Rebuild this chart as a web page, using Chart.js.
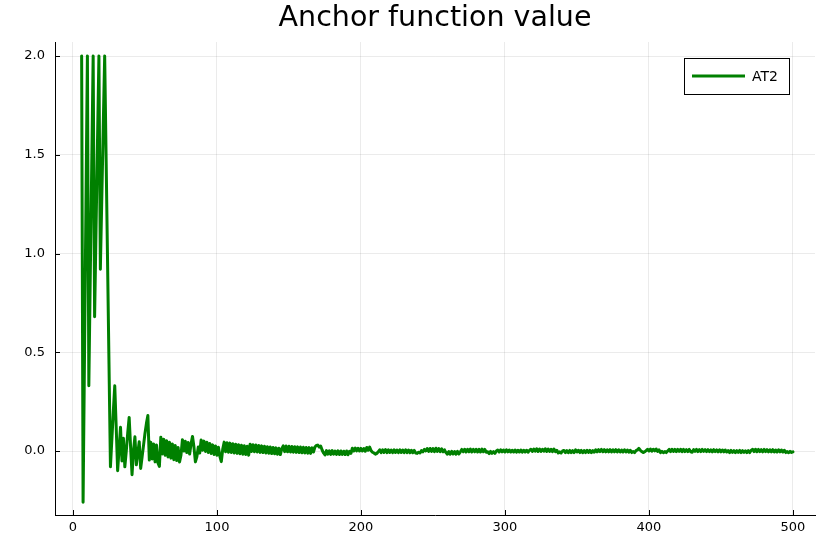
<!DOCTYPE html>
<html>
<head>
<meta charset="utf-8">
<script src="https://cdn.jsdelivr.net/npm/chart.js@4.4.0/dist/chart.umd.min.js"></script>
<style>
  html, body { margin: 0; padding: 0; background: #fff; }
</style>
</head>
<body>
<canvas id="myChart" width="830" height="554"></canvas>
<script>

/* Dados do gráfico */

var firstIteration = 6;

var anchorValue = [
  2.0, -0.26, 0.49, 1.25, 2.0, 0.33, 0.89, 1.44, 2.0, 0.68,              // 6
  1.12, 1.56, 2.0, 0.92, 1.28, 1.64, 2.0, 1.48, 0.96, 0.44,              // 16
  -0.08, 0.06, 0.20, 0.33, 0.12, -0.10, 0.01, 0.12, -0.05, 0.065,        // 26
  -0.08, 0.0, 0.09, 0.17, 0.02, -0.12, 0.0, 0.072, -0.07, -0.01,         // 36
  0.047, -0.088, -0.03, 0.03, 0.09, 0.14, 0.18, -0.046, 0.045, -0.04,    // 46
  0.035, -0.055, 0.03, -0.06, -0.078, 0.07, -0.015, 0.06, -0.022, 0.052, // 56
  -0.03, 0.044, -0.036, 0.036, -0.044, 0.028, -0.048, 0.018, -0.056, -0.02, // 66
  0.057, 0.0, 0.05, -0.008, 0.043, -0.015, 0.036, 0.074, 0.02, -0.055,   // 76
  -0.03, 0.02, -0.01, 0.056, 0.004, 0.05, -0.002, 0.044, -0.008, 0.038,  // 86
  -0.013, 0.031, -0.018, 0.025, -0.022, 0.019, -0.027, -0.054, 0.01, 0.045, // 96
  -0.004, 0.042, -0.006, 0.04, -0.008, 0.037, -0.01, 0.034, -0.012, 0.032,  // 106
  -0.014, 0.029, -0.016, 0.027, -0.018, 0.024, -0.021, 0.034, -0.002, 0.032, // 116
  -0.004, 0.030, -0.005, 0.028, -0.007, 0.026, -0.008, 0.024, -0.01, 0.022,  // 126
  -0.011, 0.02, -0.013, 0.018, -0.014, 0.016, -0.016, 0.014, -0.018, 0.012,  // 136
  0.026, -0.003, 0.025, -0.004, 0.024, -0.005, 0.023, -0.006, 0.022, -0.007, // 146
  0.021, -0.008, 0.02, -0.009, 0.019, -0.01, 0.018, -0.011, 0.017, -0.012,   // 156
  0.016, -0.005, 0.02, 0.028, 0.03, 0.02, 0.025, 0.005, -0.01, -0.02,        // 166
  0.002, -0.016, 0.001, -0.017, 0.002, -0.016, 0.0, -0.017, 0.001, -0.018,   // 176
  0.0, -0.017, -0.001, -0.018, 0.0, -0.019, -0.002, -0.012, 0.014, 0.0,      // 186
  0.015, 0.001, 0.014, 0.0, 0.013, 0.0, 0.012, -0.001, 0.018, 0.004,         // 196
  0.02, 0.002, -0.006, -0.01, -0.016, -0.012, -0.004, 0.006, -0.008, 0.006,  // 206
  -0.007, 0.007, -0.008, 0.006, -0.007, 0.005, -0.008, 0.006, -0.007, 0.005, // 216
  -0.008, 0.006, -0.007, 0.005, -0.008, 0.006, -0.008, 0.005, -0.009, 0.004, // 226
  -0.009, 0.003, -0.01, -0.012, -0.006, -0.01, 0.002, -0.004, 0.008, 0.0,   // 236
  0.012, -0.002, 0.013, -0.002, 0.012, -0.003, 0.014, -0.002, 0.012, -0.003, // 246
  0.011, -0.004, 0.006, -0.008, -0.016, -0.003, -0.016, -0.002, -0.015, -0.003, // 256
  -0.016, -0.002, -0.015, -0.004, 0.008, -0.004, 0.009, -0.005, 0.008, -0.004,  // 266
  0.01, -0.005, 0.008, -0.004, 0.009, -0.005, 0.008, -0.005, 0.01, -0.004,   // 276
  0.008, -0.006, -0.004, -0.013, -0.002, -0.012, -0.003, -0.012, 0.0, 0.005, // 286
  -0.005, 0.006, -0.004, 0.005, -0.005, 0.006, -0.004, 0.005, -0.005, 0.004, // 296
  -0.005, 0.005, -0.006, 0.004, -0.005, 0.005, -0.006, 0.004, -0.005, 0.004, // 306
  -0.006, 0.003, 0.009, -0.002, 0.01, -0.001, 0.011, -0.002, 0.01, -0.002,   // 316
  0.009, -0.001, 0.011, -0.002, 0.01, -0.002, 0.009, -0.003, 0.01, -0.003,   // 326
  0.004, -0.01, -0.004, -0.01, 0.0, 0.003, -0.008, 0.002, -0.009, 0.003,     // 336
  -0.008, 0.002, -0.008, 0.006, -0.005, 0.004, -0.008, 0.003, -0.009, 0.002, // 346
  -0.008, 0.004, -0.007, 0.003, -0.008, 0.002, -0.006, 0.006, -0.004, 0.007, // 356
  -0.003, 0.008, -0.004, 0.007, -0.004, 0.006, -0.004, 0.007, -0.005, 0.006, // 366
  -0.004, 0.007, -0.005, 0.006, -0.005, 0.005, -0.005, 0.006, -0.005, 0.005, // 376
  -0.006, 0.004, -0.008, -0.003, -0.008, 0.002, 0.006, 0.013, 0.004, -0.003, // 386
  -0.008, -0.004, 0.002, 0.009, 0.0, 0.01, -0.001, 0.009, 0.001, 0.01,       // 396
  -0.002, 0.006, -0.008, -0.002, -0.009, -0.003, -0.008, 0.0, 0.008, -0.003, // 406
  0.009, -0.002, 0.008, -0.003, 0.008, -0.002, 0.009, -0.003, 0.008, -0.003, // 416
  0.007, -0.003, 0.008, -0.004, -0.006, 0.007, -0.002, 0.008, -0.003, 0.007, // 426
  -0.003, 0.008, -0.002, 0.007, -0.003, 0.007, -0.003, 0.006, -0.004, 0.007, // 436
  -0.003, 0.006, -0.004, 0.006, -0.004, 0.005, -0.004, 0.005, -0.005, 0.002, // 446
  -0.008, 0.003, -0.007, 0.002, -0.008, 0.002, -0.007, 0.003, -0.008, 0.002, // 456
  -0.007, 0.001, -0.008, 0.002, -0.008, 0.004, 0.008, -0.003, 0.009, -0.004, // 466
  0.008, -0.003, 0.007, -0.004, 0.008, -0.003, 0.007, -0.004, 0.006, -0.004, // 476
  0.007, -0.005, 0.005, -0.005, 0.006, -0.004, 0.005, -0.005, 0.004, -0.008, // 486
  -0.003, -0.009, -0.002, -0.007, -0.004                                     // 496
];

var iterations = anchorValue.map(function (v, i) { return firstIteration + i; });

var xTicks = [0, 100, 200, 300, 400, 500];
var yTicks = [0.0, 0.5, 1.0, 1.5, 2.0];

var seriesLabel = 'AT2';
var chartTitle = 'Anchor function value';


/* Título centrado sobre a área do gráfico */

var tituloArea = {
  id: 'tituloArea',
  afterDraw: function (chart) {
    var ctx = chart.ctx;
    var area = chart.chartArea;
    ctx.save();
    ctx.fillStyle = '#000';
    ctx.font = '28.5px "DejaVu Sans"';
    ctx.textAlign = 'center';
    ctx.textBaseline = 'alphabetic';
    ctx.fillText(chartTitle, (area.left + area.right) / 2, 26);
    ctx.restore();
  }
};


/* Marcas dos eixos para dentro (estilo do GR) */

var marcasInternas = {
  id: 'marcasInternas',
  afterDraw: function (chart) {
    var ctx = chart.ctx;
    var sx = chart.scales.x;
    var sy = chart.scales.y;
    ctx.save();
    ctx.strokeStyle = '#000';
    ctx.lineWidth = 1;
    ctx.beginPath();
    sx.ticks.forEach(function (t) {
      var p = Math.round(sx.getPixelForValue(t.value)) + 0.5;
      ctx.moveTo(p, sy.bottom);
      ctx.lineTo(p, sy.bottom - 5);
    });
    sy.ticks.forEach(function (t) {
      var p = Math.round(sy.getPixelForValue(t.value)) + 0.5;
      ctx.moveTo(sx.left, p);
      ctx.lineTo(sx.left + 5, p);
    });
    ctx.stroke();
    ctx.restore();
  }
};


/* Legenda com caixa */

var legendaCaixa = {
  id: 'legendaCaixa',
  afterDraw: function (chart) {
    var ctx = chart.ctx;
    var area = chart.chartArea;
    var ds = chart.data.datasets[0];
    var w = 105, h = 36;
    var x = Math.round(area.right - 26 - w);
    var y = Math.round(area.top + 16);
    ctx.save();
    ctx.fillStyle = '#fff';
    ctx.fillRect(x, y, w, h);
    ctx.strokeStyle = '#000';
    ctx.lineWidth = 1;
    ctx.strokeRect(x + 0.5, y + 0.5, w, h);
    ctx.strokeStyle = ds.borderColor;
    ctx.lineWidth = ds.borderWidth;
    ctx.beginPath();
    ctx.moveTo(x + 8, y + h / 2);
    ctx.lineTo(x + 61, y + h / 2);
    ctx.stroke();
    ctx.fillStyle = '#000';
    ctx.font = '14px "DejaVu Sans"';
    ctx.textBaseline = 'middle';
    ctx.fillText(ds.label, x + 68, y + h / 2 + 1);
    ctx.restore();
  }
};


/* Gráfico */

function Grafico () {
  var pontos = anchorValue.map(function (v, i) {
    return { x: iterations[i], y: v };
  });

  var ctx = document.getElementById('myChart').getContext('2d');
  new Chart(ctx, {
    type: 'line',
    data: {
      datasets: [{
        label: seriesLabel,
        data: pontos,
        borderColor: 'rgb(0, 128, 0)',
        borderWidth: 3,
        borderJoinStyle: 'round',
        borderCapStyle: 'round',
        pointRadius: 0,
        tension: 0,
        fill: false
      }]
    },
    options: {
      responsive: false,
      animation: false,
      layout: { padding: { left: 0, right: 15, top: 42, bottom: 0 } },
      plugins: {
        legend: { display: false },
        tooltip: { enabled: false },
        title: { display: false }
      },
      scales: {
        x: {
          type: 'linear',
          min: -12.5,
          max: 515.3,
          afterBuildTicks: function (s) { s.ticks = xTicks.map(function (v) { return { value: v }; }); },
          afterFit: function (s) { s.height = 39; },
          grid: { color: 'rgba(0,0,0,0.08)', drawTicks: false },
          border: { color: '#000', width: 1 },
          ticks: {
            color: '#000',
            padding: 5,
            maxRotation: 0,
            font: { family: 'DejaVu Sans', size: 13 },
            callback: function (v) { return String(v); }
          }
        },
        y: {
          type: 'linear',
          min: -0.324,
          max: 2.071,
          afterBuildTicks: function (s) { s.ticks = yTicks.map(function (v) { return { value: v }; }); },
          afterFit: function (s) { s.width = 55; },
          grid: { color: 'rgba(0,0,0,0.08)', drawTicks: false },
          border: { color: '#000', width: 1 },
          ticks: {
            color: '#000',
            padding: 10,
            font: { family: 'DejaVu Sans', size: 13 },
            callback: function (v) { return v.toFixed(1); }
          }
        }
      }
    },
    plugins: [tituloArea, marcasInternas, legendaCaixa]
  });
}

Grafico();

</script>
</body>
</html>
